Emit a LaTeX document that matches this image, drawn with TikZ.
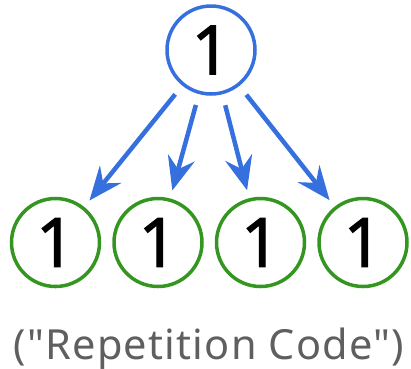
\documentclass[tikz,border=0pt]{standalone}
\usepackage{fontspec}
\setmainfont{Noto Sans}[Ligatures=TeXOff]
\newfontfamily\digitfont{Noto Sans}[FakeBold=1.6]
\newfontfamily\capfont{Noto Sans}[Ligatures=TeXOff,LetterSpace=3]
\usetikzlibrary{arrows.meta}
\definecolor{cblue}{RGB}{54,112,222}
\definecolor{cgreen}{RGB}{52,150,32}
\definecolor{cgray}{RGB}{95,95,95}
\begin{document}
\begin{tikzpicture}[x=1pt,y=-1pt,
  bit/.style={circle,draw,line width=3.5pt,minimum size=88pt,inner sep=0pt,outer sep=0pt,
    font=\digitfont\fontsize{68}{68}\selectfont},
  topbit/.style={bit,draw=cblue},
  botbit/.style={bit,draw=cgreen},
  arr/.style={draw=cblue,line width=4.5pt,
    -{Stealth[length=34pt,width=28pt,inset=12pt,line width=0pt]},
    shorten <=13pt,shorten >=10pt}]
\useasboundingbox (0,0) rectangle (411,368);
\node[topbit] (t) at (211,50) {1};
\node[botbit] (b1) at (55.5,242.5) {1};
\node[botbit] (b2) at (158,242.5) {1};
\node[botbit] (b3) at (260.5,242.5) {1};
\node[botbit] (b4) at (363,242.5) {1};
\foreach \b in {b1,b2,b3,b4}{\draw[arr] (t) -- (\b);}
\node[anchor=base,text=cgray,font=\capfont\fontsize{41.5}{41.5}\selectfont,inner sep=0pt] (cap) at (209,359) {("Repetition Code")};
\end{tikzpicture}
\end{document}
